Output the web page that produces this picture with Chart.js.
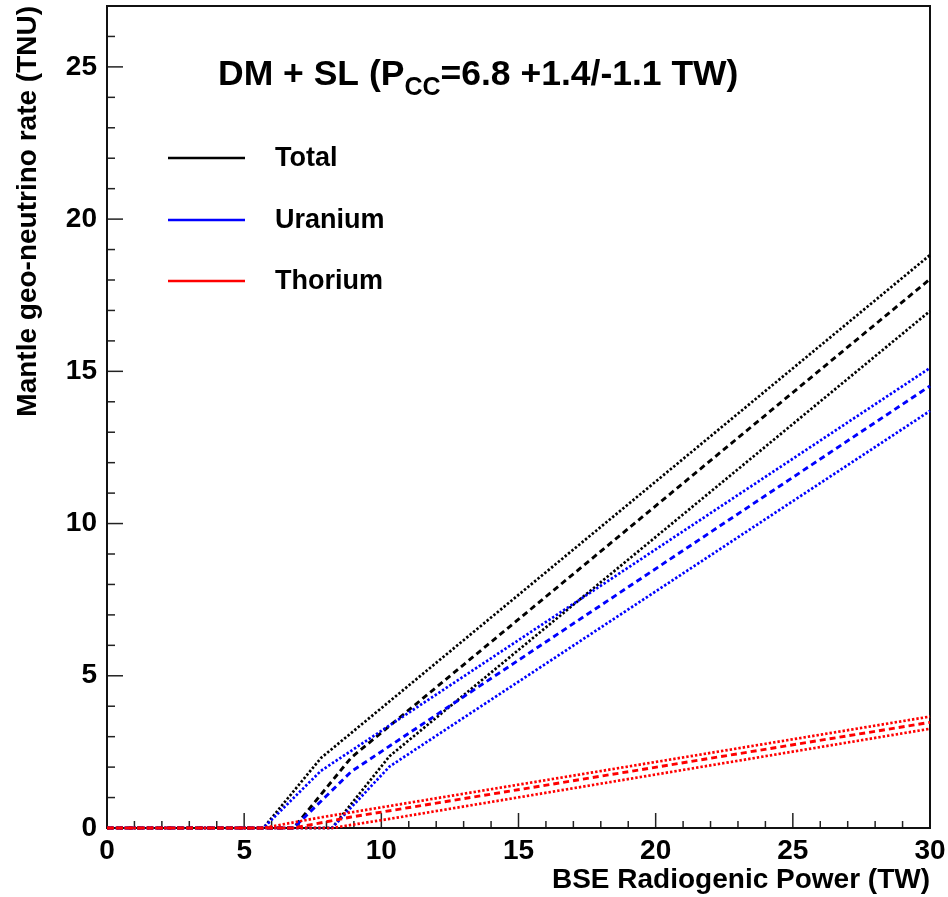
<!DOCTYPE html>
<html><head><meta charset="utf-8">
<script src="https://cdn.jsdelivr.net/npm/chart.js@4/dist/chart.umd.min.js"></script>
<style>html,body{margin:0;padding:0;background:#fff;}#wrap{width:948px;height:897px;}</style>
</head><body><div id="wrap"><canvas id="c" width="948" height="897"></canvas></div>
<script>
// ---- data ----
const xTicks = [0, 5, 10, 15, 20, 25, 30];
const yTicks = [0, 5, 10, 15, 20, 25];
const xUpper   = [0, 5.7, 7.8, 30];
const xCentral = [0, 6.8, 8.9, 30];
const xLower   = [0, 8.2, 10.3, 30];
const totalUpper     = [0, 0, 2.30, 18.82];
const totalCentral   = [0, 0, 2.31, 18.03];
const totalLower     = [0, 0, 2.36, 16.98];
const uraniumUpper   = [0, 0, 1.88, 15.11];
const uraniumCentral = [0, 0, 1.85, 14.52];
const uraniumLower   = [0, 0, 2.02, 13.70];
const thoriumUpper   = [0, 0, 0.35, 3.66];
const thoriumCentral = [0, 0, 0.36, 3.47];
const thoriumLower   = [0, 0, 0.30, 3.26];
const legendLabels = ['Total', 'Uranium', 'Thorium'];
const titleMain = 'DM + SL (P';
const titleSub = 'CC';
const titleRest = '=6.8 +1.4/-1.1 TW)';

const FONT = '"Liberation Sans", Arial, Helvetica, sans-serif';
const BLACK = '#000000', BLUE = '#0000ff', RED = '#ff0000';
const DOT = [2.4, 2], DASH = [6, 4];

function pts(xs, ys) { return xs.map((x, i) => ({x: x, y: ys[i]})); }
function ds(xs, ys, color, dash, width, order) {
  return {data: pts(xs, ys), borderColor: color, backgroundColor: color, borderDash: dash,
    borderWidth: width, pointRadius: 0, tension: 0, fill: false, order: order, clip: 3};
}

const datasets = [
  ds(xUpper, totalUpper, BLACK, DOT, 2.7, 3),
  ds(xCentral, totalCentral, BLACK, DASH, 2.9, 3),
  ds(xLower, totalLower, BLACK, DOT, 2.7, 3),
  ds(xUpper, uraniumUpper, BLUE, DOT, 2.7, 2),
  ds(xCentral, uraniumCentral, BLUE, DASH, 2.9, 2),
  ds(xLower, uraniumLower, BLUE, DOT, 2.7, 2),
  ds(xUpper, thoriumUpper, RED, DOT, 2.7, 1),
  ds(xCentral, thoriumCentral, RED, DASH, 2.9, 1),
  ds(xLower, thoriumLower, RED, DOT, 2.7, 1)
];

const framePlugin = {
  id: 'frame',
  beforeDatasetsDraw(chart) {
    const {ctx, chartArea: a, scales: {x, y}} = chart;
    ctx.save();
    ctx.strokeStyle = '#222';
    ctx.lineWidth = 1.5;
    for (let v = x.min; v <= x.max; v += 1) {
      const px = x.getPixelForValue(v);
      const len = (v % 5 === 0) ? 15 : 7;
      ctx.beginPath(); ctx.moveTo(px, a.bottom); ctx.lineTo(px, a.bottom - len); ctx.stroke();
    }
    for (let v = y.min; v <= y.max; v += 1) {
      const py = y.getPixelForValue(v);
      const len = (v % 5 === 0) ? 16 : 8;
      ctx.beginPath(); ctx.moveTo(a.left, py); ctx.lineTo(a.left + len, py); ctx.stroke();
    }
    ctx.lineWidth = 2;
    ctx.strokeStyle = '#111';
    ctx.strokeRect(a.left, a.top, a.right - a.left, a.bottom - a.top);
    ctx.restore();
  },
  afterDraw(chart) {
    const {ctx} = chart;
    ctx.save();
    ctx.fillStyle = '#000';
    ctx.textBaseline = 'alphabetic';
    let tx = 218, ty = 85;
    ctx.font = 'bold 35.5px ' + FONT;
    ctx.fillText(titleMain, tx, ty);
    tx += ctx.measureText(titleMain).width;
    ctx.font = 'bold 25px ' + FONT;
    ctx.fillText(titleSub, tx, ty + 10);
    tx += ctx.measureText(titleSub).width;
    ctx.font = 'bold 35.5px ' + FONT;
    ctx.fillText(titleRest, tx, ty);
    const colors = [BLACK, BLUE, RED];
    const ly = [158, 220, 281];
    ctx.font = 'bold 27px ' + FONT;
    ctx.textBaseline = 'middle';
    legendLabels.forEach((t, i) => {
      ctx.strokeStyle = colors[i];
      ctx.lineWidth = 2.5;
      ctx.beginPath(); ctx.moveTo(168, ly[i]); ctx.lineTo(245, ly[i]); ctx.stroke();
      ctx.fillText(t, 275, ly[i] + 1);
    });
    ctx.restore();
  }
};

const tickFont = {family: FONT, size: 28, weight: 'bold'};
function zeroPad(s) { s.paddingTop = 0; s.paddingBottom = 0; s.paddingLeft = 0; s.paddingRight = 0; }

new Chart(document.getElementById('c'), {
  type: 'line',
  data: {datasets: datasets},
  options: {
    responsive: false,
    animation: false,
    devicePixelRatio: 1,
    layout: {padding: {left: 0, right: 18, top: 6, bottom: 0}},
    plugins: {legend: {display: false}, tooltip: {enabled: false}},
    scales: {
      x: {
        type: 'linear', min: 0, max: 30,
        afterBuildTicks: s => { s.ticks = xTicks.map(v => ({value: v})); },
        afterFit: s => { s.height = 69; zeroPad(s); },
        grid: {display: false, drawTicks: false},
        border: {display: false},
        ticks: {font: tickFont, color: '#000', padding: 6, maxRotation: 0, autoSkip: false},
        title: {display: true, text: 'BSE Radiogenic Power (TW)', align: 'end', color: '#000',
          font: {family: FONT, size: 28, weight: 'bold'}, padding: {top: 0, bottom: 0}}
      },
      y: {
        type: 'linear', min: 0, max: 27,
        afterBuildTicks: s => { s.ticks = yTicks.map(v => ({value: v})); },
        afterFit: s => { s.width = 107; zeroPad(s); },
        grid: {display: false, drawTicks: false},
        border: {display: false},
        ticks: {font: tickFont, color: '#000', padding: 10, autoSkip: false},
        title: {display: true, text: 'Mantle geo-neutrino rate (TNU)', align: 'end', color: '#000',
          font: {family: FONT, size: 28, weight: 'bold'}, padding: {top: 11, bottom: 0}}
      }
    }
  },
  plugins: [framePlugin]
});
</script>
</body></html>
